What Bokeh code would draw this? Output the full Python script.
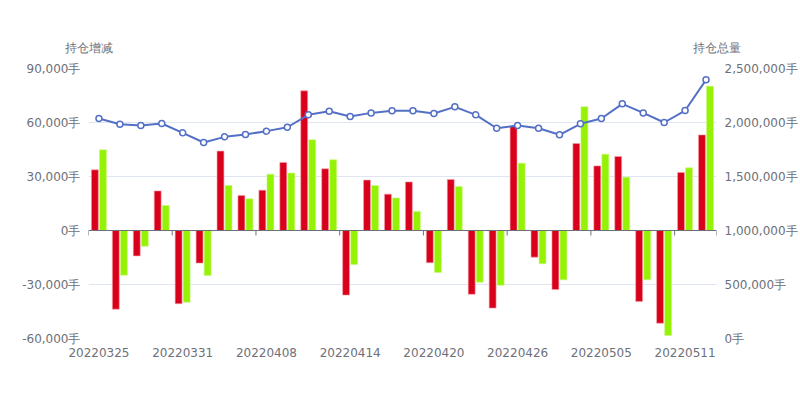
from bokeh.plotting import figure
from bokeh.models import (Range1d, LinearAxis, FixedTicker, CustomJSTickFormatter,
                          Span, ColumnDataSource)
from bokeh.transform import dodge
from bokeh.embed import file_html
from bokeh.resources import INLINE

dates = ["20220325", "20220328", "20220329", "20220330", "20220331", "20220401",
         "20220406", "20220407", "20220408", "20220411", "20220412", "20220413",
         "20220414", "20220415", "20220418", "20220419", "20220420", "20220421",
         "20220422", "20220425", "20220426", "20220427", "20220428", "20220429",
         "20220505", "20220506", "20220509", "20220510", "20220511", "20220512"]

change_a = [33700, -43700, -14100, 22000, -40700, -18100, 44100, 19400, 22400, 37800,
            77600, 34300, -35900, 28000, 20200, 27000, -17900, 28300, -35400, -43100,
            57800, -14800, -32800, 48300, 35900, 41100, -39400, -51500, 32200, 53100]

change_b = [44800, -24800, -8700, 13900, -39800, -25000, 25000, 17600, 31300, 31900,
            50400, 39300, -18900, 25000, 18100, 10600, -23300, 24400, -28700, -30400,
            37400, -18500, -27400, 68700, 42400, 29600, -27400, -58300, 34800, 80200]

total = [2037000, 1984000, 1972000, 1991000, 1904000, 1815000, 1867000, 1889000,
         1920000, 1956000, 2071000, 2105000, 2055000, 2089000, 2108000, 2108000,
         2083000, 2145000, 2071000, 1947000, 1972000, 1947000, 1886000, 1988000,
         2037000, 2173000, 2089000, 2000000, 2111000, 2395000]

left_name = "持仓增减"
right_name = "持仓总量"
left_ticks = [-60000, -30000, 0, 30000, 60000, 90000]
right_ticks = [0, 500000, 1000000, 1500000, 2000000, 2500000]
label_every = 4

TEXT = "#6E7079"
FONT = "DejaVu Sans"
n = len(dates)
xc = [i + 0.5 for i in range(n)]

p = figure(width=800, height=400, output_backend="svg", toolbar_location=None,
           x_range=Range1d(0, n), y_range=Range1d(left_ticks[0], left_ticks[-1]),
           min_border_left=88, min_border_right=72, min_border_top=68,
           min_border_bottom=62)
p.outline_line_color = None
p.background_fill_color = "white"
p.border_fill_color = "white"

p.extra_y_ranges = {"total": Range1d(right_ticks[0], right_ticks[-1])}

src = ColumnDataSource(dict(x=xc, a=change_a, b=change_b, t=total))

p.vbar(x=dodge("x", -0.195, range=p.x_range), top="a", bottom=0, width=0.33,
       source=src, fill_color="#D9001B", line_color="#F5A0A8", line_width=0.6)
p.vbar(x=dodge("x", 0.19, range=p.x_range), top="b", bottom=0, width=0.33,
       source=src, fill_color="#95F204", line_color="#C8F880", line_width=0.6)

p.line(x="x", y="t", source=src, y_range_name="total", line_color="#5470C6",
       line_width=2)
p.scatter(x="x", y="t", source=src, y_range_name="total", size=6,
          fill_color="white", line_color="#5470C6", line_width=1.5)

# zero axis line with ticks at category boundaries
p.add_layout(Span(location=0, dimension="width", line_color=TEXT, line_width=1))
bounds = list(range(0, n + 1, label_every)) + [n]
p.segment(x0=bounds, y0=[0] * len(bounds), x1=bounds,
          y1=[-(left_ticks[-1] - left_ticks[0]) * 5 / 270] * len(bounds),
          line_color=TEXT, line_width=1)

fmt = "return tick.toLocaleString('en-US') + '手';"


def style(ax, standoff):
    ax.axis_line_color = None
    ax.major_tick_line_color = None
    ax.minor_tick_line_color = None
    ax.major_tick_out = 0
    ax.major_tick_in = 0
    ax.minor_tick_out = 0
    ax.minor_tick_in = 0
    ax.major_label_standoff = standoff
    ax.major_label_text_color = TEXT
    ax.major_label_text_font = FONT
    ax.major_label_text_font_size = "12px"


# left axis
ly = p.yaxis[0]
ly.ticker = FixedTicker(ticks=left_ticks)
ly.formatter = CustomJSTickFormatter(code=fmt)
style(ly, 8)

# right axis
ry = LinearAxis(y_range_name="total", ticker=FixedTicker(ticks=right_ticks),
                formatter=CustomJSTickFormatter(code=fmt))
style(ry, 8)
p.add_layout(ry, "right")

# bottom axis
bx = p.xaxis[0]
bx.ticker = FixedTicker(ticks=[xc[i] for i in range(0, n, label_every)])
bx.major_label_overrides = {xc[i]: dates[i] for i in range(0, n, label_every)}
style(bx, 9)

# axis names above the two y axes
top = LinearAxis(ticker=FixedTicker(ticks=[0, n]))
top.major_label_overrides = {0: left_name, n: right_name}
style(top, 14)
p.add_layout(top, "above")

p.xgrid.grid_line_color = None
p.ygrid.grid_line_color = "#E0E6F1"
p.ygrid.ticker = FixedTicker(ticks=left_ticks)

open("out.html", "w").write(file_html(p, INLINE))
